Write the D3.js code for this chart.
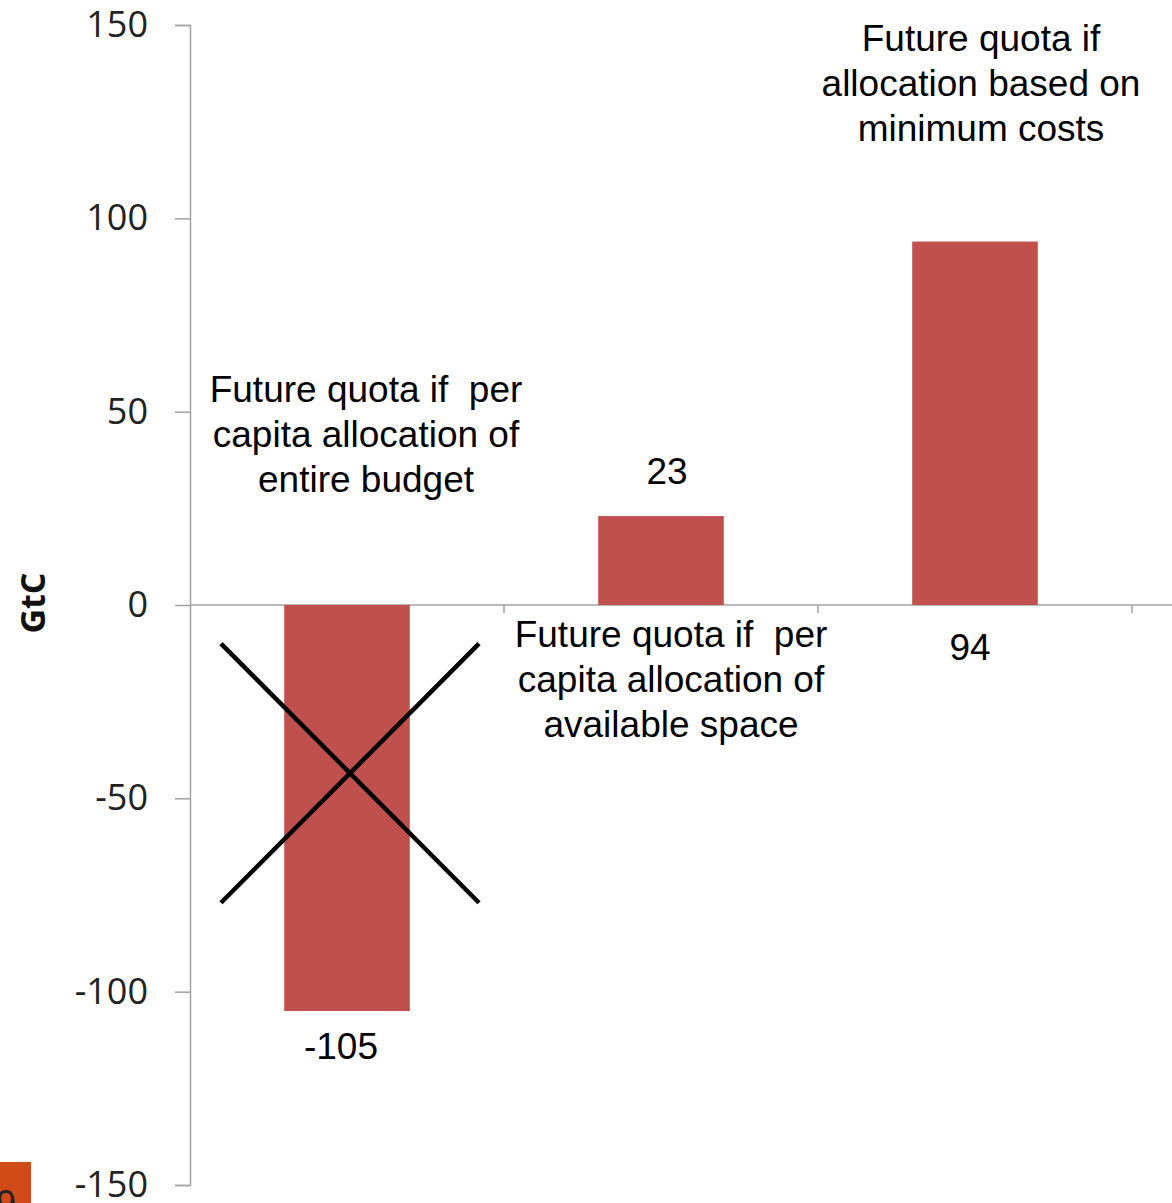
<!DOCTYPE html>
<html>
<head>
<meta charset="utf-8">
<script src="https://cdn.jsdelivr.net/npm/d3@7"></script>
<style>
  body { margin: 0; background: #fff; }
  svg { display: block; }
  .tick text { font-family: "Open Sans", sans-serif; font-size: 36px; fill: #222; }
  .note { font-family: "Liberation Sans", Arial, sans-serif; font-size: 37px; fill: #000; white-space: pre; }
</style>
</head>
<body>
<script>
// chart data
const categories = ["entire budget", "available space", "minimum costs"];
const values = [-105, 23, 94];
const valueLabels = ["-105", "23", "94"];
const yTicks = [-150, -100, -50, 0, 50, 100, 150];
const notes = [
  ["Future quota if  per", "capita allocation of", "entire budget"],
  ["Future quota if  per", "capita allocation of", "available space"],
  ["Future quota if", "allocation based on", "minimum costs"]
];

const width = 1172, height = 1203;
const svg = d3.select("body").append("svg")
  .attr("width", width).attr("height", height);

const x = d3.scaleBand()
  .domain(categories)
  .range([190, 1132])
  .paddingInner(0.6)
  .paddingOuter(0.3);
const step = x.step();
const bandStart = c => x(c) - step * 0.3;

const y = d3.scaleLinear().domain([-150, 150]).range([1185, 25]);

// y axis
const yAxis = svg.append("g")
  .attr("transform", "translate(190,0)")
  .call(d3.axisLeft(y).tickValues(yTicks).tickSize(15).tickPadding(27)
    .tickFormat(d => String(d)));
yAxis.selectAll("path, line").attr("stroke", "#a3a3a3").attr("stroke-width", 1.5);

// x axis line and ticks at category boundaries
svg.append("line")
  .attr("x1", 190).attr("x2", width)
  .attr("y1", y(0)).attr("y2", y(0))
  .attr("stroke", "#a3a3a3").attr("stroke-width", 1.5);
svg.selectAll(".xtick")
  .data(categories)
  .enter().append("line")
  .attr("class", "xtick")
  .attr("x1", d => bandStart(d) + step).attr("x2", d => bandStart(d) + step)
  .attr("y1", y(0)).attr("y2", y(0) + 8)
  .attr("stroke", "#a3a3a3").attr("stroke-width", 1.5);

// bars
svg.selectAll(".bar")
  .data(categories)
  .enter().append("rect")
  .attr("class", "bar")
  .attr("x", d => x(d))
  .attr("width", x.bandwidth())
  .attr("y", (d, i) => y(Math.max(0, values[i])))
  .attr("height", (d, i) => Math.abs(y(values[i]) - y(0)))
  .attr("fill", "#C0504D");

// value labels
const labelPos = [
  { dx: -6, v: -105, dy: 1059 - y(-105) },
  { dx: 6, v: 23, dy: 484 - y(23) },
  { dx: -5, v: 0, dy: 660 - y(0) }
];
svg.selectAll(".val")
  .data(categories)
  .enter().append("text")
  .attr("class", "note")
  .attr("text-anchor", "middle")
  .attr("x", (d, i) => x(d) + x.bandwidth() / 2 + labelPos[i].dx)
  .attr("y", (d, i) => y(labelPos[i].v) + labelPos[i].dy)
  .text((d, i) => valueLabels[i]);

// category annotations
const noteBase = [402, 647, 51];
const noteDx = [19, 10, 6];
notes.forEach((lines, i) => {
  const cx = x(categories[i]) + x.bandwidth() / 2 + noteDx[i];
  const t = svg.append("text")
    .attr("class", "note")
    .attr("text-anchor", "middle")
    .attr("x", cx)
    .attr("y", noteBase[i]);
  lines.forEach((s, j) => {
    t.append("tspan").attr("x", cx).attr("dy", j === 0 ? 0 : 45).text(s);
  });
});

// cross over first bar
const cx0 = x(categories[0]) + x.bandwidth() / 2 + 3;
svg.append("line")
  .attr("x1", cx0 - 129).attr("y1", y(-10))
  .attr("x2", cx0 + 129).attr("y2", y(-77))
  .attr("stroke", "#000").attr("stroke-width", 4.5);
svg.append("line")
  .attr("x1", cx0 - 129).attr("y1", y(-77))
  .attr("x2", cx0 + 129).attr("y2", y(-10))
  .attr("stroke", "#000").attr("stroke-width", 4.5);

// y axis title
svg.append("text")
  .attr("transform", "translate(45,603) rotate(-90)")
  .attr("text-anchor", "middle")
  .style("font-family", "'Open Sans', sans-serif")
  .style("font-weight", "700")
  .style("font-size", "34px")
  .attr("fill", "#111")
  .text("GtC");

// slide number box
svg.append("rect")
  .attr("x", 0).attr("y", 1162)
  .attr("width", 31).attr("height", 41)
  .attr("fill", "#D14B19");
svg.append("text")
  .attr("x", -4).attr("y", 1216)
  .style("font-family", "'Liberation Sans', Arial, sans-serif")
  .style("font-size", "36px")
  .attr("fill", "#222")
  .text("9");
</script>
</body>
</html>
